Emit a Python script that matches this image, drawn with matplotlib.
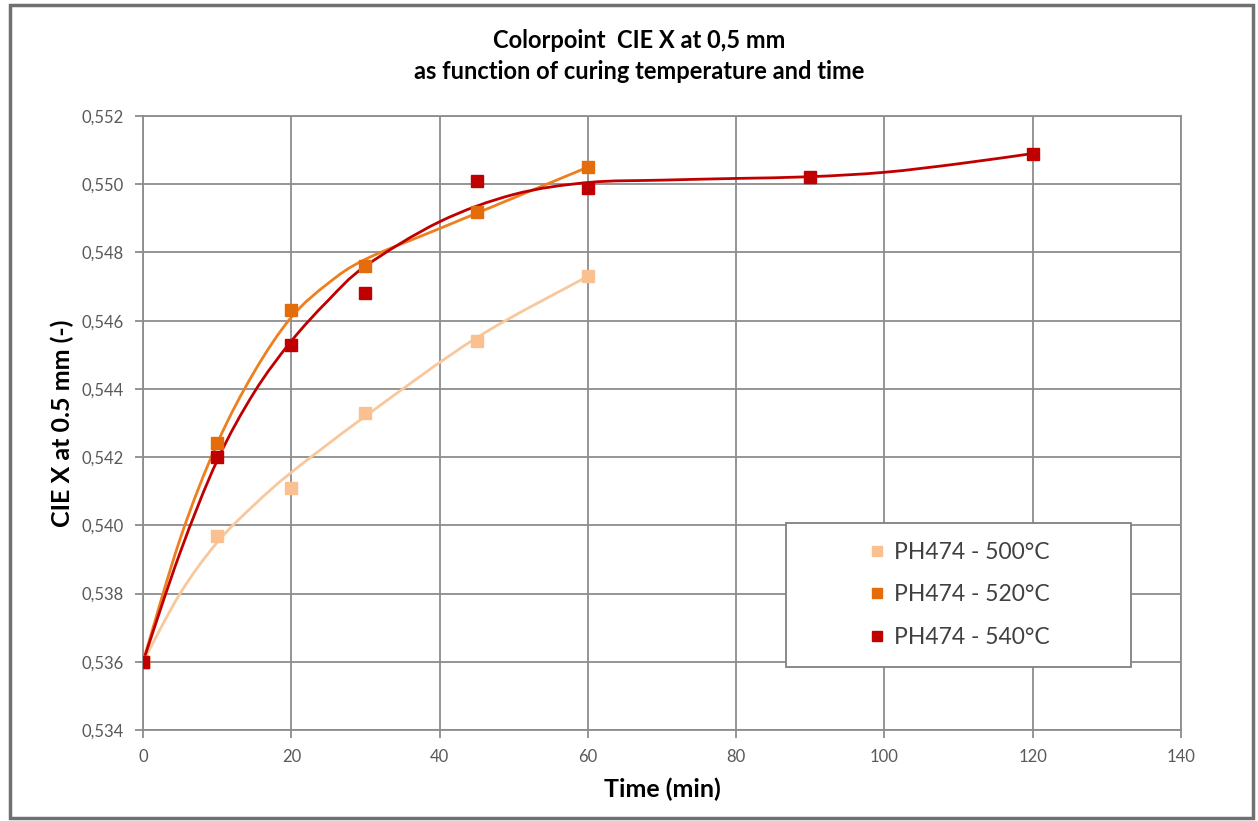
import matplotlib.pyplot as plt
from matplotlib.path import Path
from matplotlib.patches import PathPatch, Rectangle
from matplotlib.ticker import FuncFormatter

plt.rcParams['font.family'] = ['Lato', 'DejaVu Sans']

# measured points
t_500 = [0, 10, 20, 30, 45, 60]
x_500 = [0.5360, 0.5397, 0.5411, 0.5433, 0.5454, 0.5473]
t_520 = [0, 10, 20, 30, 45, 60]
x_520 = [0.5360, 0.5424, 0.5463, 0.5476, 0.5492, 0.5505]
t_540 = [0, 10, 20, 30, 45, 60, 90, 120]
x_540 = [0.5360, 0.5420, 0.5453, 0.5468, 0.5501, 0.5499, 0.5502, 0.5509]

# trend curves
fit_t_500 = [0, 5, 10, 15, 20, 30, 45, 60]
fit_500 = [0.5360, 0.5380, 0.5395, 0.5406, 0.54155, 0.5432, 0.5455, 0.5473]
fit_t_520 = [0, 5, 10, 15, 20, 25, 30, 40, 50, 60]
fit_520 = [0.5360, 0.5396, 0.5424, 0.5445, 0.5461, 0.5471, 0.5478, 0.5487, 0.5496, 0.5505]
fit_t_540 = [0, 5, 10, 15, 20, 25, 30, 40, 50, 60, 70, 80, 90, 100, 110, 120]
fit_540 = [0.5360, 0.5392, 0.5419, 0.5439, 0.5454, 0.5466, 0.5476, 0.5489, 0.5497,
           0.55005, 0.55012, 0.55017, 0.55022, 0.55035, 0.5506, 0.5509]

labels = ['PH474 - 500°C', 'PH474 - 520°C', 'PH474 - 540°C']
marker_colors = ['#FAC08F', '#E46C0A', '#C00000']
line_colors = ['#F9C79C', '#EE7F1E', '#C00000']

x_ticks = [0, 20, 40, 60, 80, 100, 120, 140]
y_ticks = [0.534, 0.536, 0.538, 0.540, 0.542, 0.544, 0.546, 0.548, 0.550, 0.552]


def smooth_path(xs, ys):
    # excel-like smoothed line (catmull-rom as cubic bezier)
    pts = list(zip(xs, ys))
    verts = [pts[0]]
    codes = [Path.MOVETO]
    n = len(pts)
    for i in range(n - 1):
        p0 = pts[max(i - 1, 0)]
        p1 = pts[i]
        p2 = pts[i + 1]
        p3 = pts[min(i + 2, n - 1)]
        c1 = (p1[0] + (p2[0] - p0[0]) / 6, p1[1] + (p2[1] - p0[1]) / 6)
        c2 = (p2[0] - (p3[0] - p1[0]) / 6, p2[1] - (p3[1] - p1[1]) / 6)
        verts += [c1, c2, p2]
        codes += [Path.CURVE4] * 3
    return Path(verts, codes)


fig = plt.figure(figsize=(12.58, 8.21), dpi=100)
fig.patches.append(Rectangle((0.008, 0.004), 0.988, 0.99, transform=fig.transFigure,
                             fill=False, edgecolor='#707070', linewidth=2.5))
ax = fig.add_axes([0.1137, 0.1109, 0.8251, 0.7478])

series = [(t_500, x_500, fit_t_500, fit_500),
          (t_520, x_520, fit_t_520, fit_520),
          (t_540, x_540, fit_t_540, fit_540)]
for (t, x, ft, fv), lab, mc, lc in zip(series, labels, marker_colors, line_colors):
    ax.add_patch(PathPatch(smooth_path(ft, fv), fill=False, edgecolor=lc,
                           linewidth=2, zorder=3))
    ax.plot(t, x, linestyle='none', marker='s', markersize=8, color=mc,
            label=lab, zorder=4)

ax.set_xlim(0, 140)
ax.set_ylim(0.534, 0.552)
ax.set_xticks(x_ticks)
ax.set_yticks(y_ticks)
ax.yaxis.set_major_formatter(FuncFormatter(lambda v, p: f'{v:.3f}'.replace('.', ',')))
ax.grid(True, color='#8C8C8C', linewidth=1.3)
ax.set_axisbelow(True)
for s in ax.spines.values():
    s.set_color('#8C8C8C')
    s.set_linewidth(1.3)
ax.tick_params(direction='out', length=6, width=1.3, color='#8C8C8C',
               labelsize=12, labelcolor='#595959', pad=8)

ax.set_xlabel('Time (min)', fontsize=18, fontweight='bold', labelpad=9)
ax.set_ylabel('CIE X at 0.5 mm (-)', fontsize=18, fontweight='bold', labelpad=5)

fig.text(0.508, 0.951, 'Colorpoint  CIE X at 0,5 mm', ha='center', va='center',
         fontsize=17, fontweight='bold')
fig.text(0.508, 0.913, 'as function of curing temperature and time', ha='center',
         va='center', fontsize=17, fontweight='bold')

# legend box
ax.add_patch(Rectangle((0.619, 0.103), 0.333, 0.234, transform=ax.transAxes,
                       facecolor='white', edgecolor='#808080', linewidth=1.3, zorder=5))
leg = ax.legend(loc='center', bbox_to_anchor=(0.785, 0.22), frameon=False,
                fontsize=16.5, labelspacing=0.95, handletextpad=0.3, handlelength=0.9,
                markerscale=0.85)
leg.set_zorder(6)
for txt in leg.get_texts():
    txt.set_color('#404040')

fig.savefig('out.png', dpi=100)
